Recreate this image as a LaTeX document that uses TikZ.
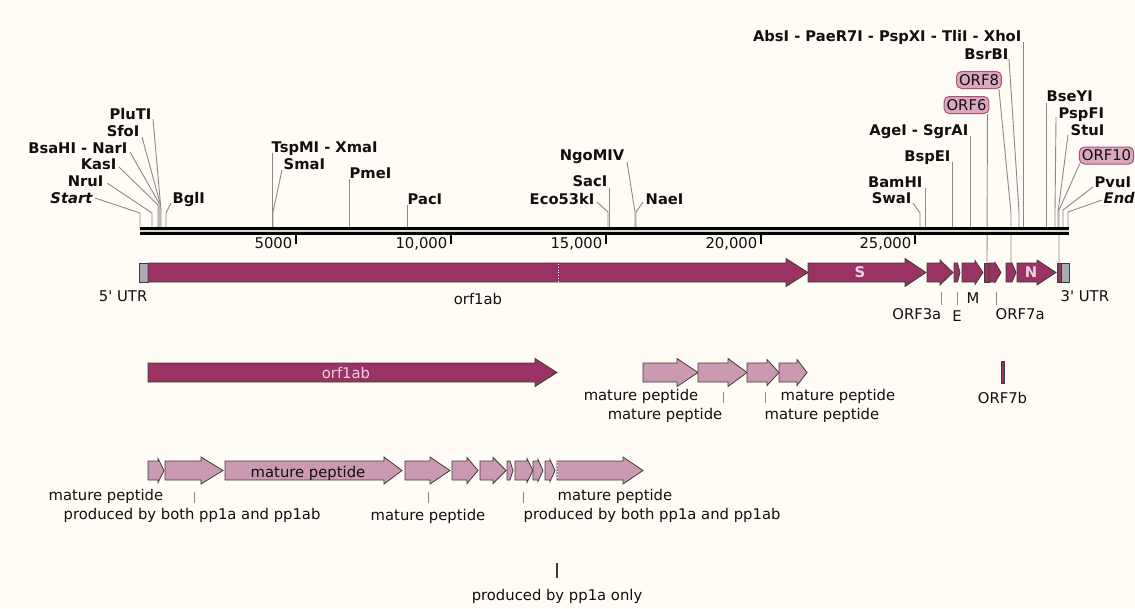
\documentclass[tikz,border=0pt]{standalone}
\usepackage{fontspec}
\setmainfont{DejaVu Sans}
\definecolor{bg}{HTML}{FFFCF5}
\definecolor{feat}{HTML}{9A3363}
\definecolor{pep}{HTML}{CC99B2}
\definecolor{utr}{HTML}{A8ABB2}
\definecolor{pillfill}{HTML}{DCA8BF}
\definecolor{pilldraw}{HTML}{A85078}
\definecolor{edge}{HTML}{3C3C3C}
\definecolor{leadc}{HTML}{8A8A8A}
\definecolor{txt}{HTML}{101010}
\definecolor{lightlbl}{HTML}{EBD3DF}
\definecolor{gapc}{HTML}{D4D4D4}
% #1 style, #2 x start, #3 body end, #4 tip, #5 y centre, #6 half body, #7 half head
\newcommand{\garr}[7]{%
  \path[#1] ({#2},{#5-#6}) -- ({#3},{#5-#6}) -- ({#3},{#5-#7}) -- ({#4},{#5})
    -- ({#3},{#5+#7}) -- ({#3},{#5+#6}) -- ({#2},{#5+#6}) -- cycle;}
\tikzset{
  site/.style={font=\fontsize{14.7}{16}\selectfont\bfseries, text=txt, inner sep=0.5pt, yshift=-3.5pt},
  ital/.style={font=\fontsize{14.7}{16}\selectfont\bfseries\itshape, text=txt, inner sep=0.5pt, yshift=-3.5pt},
  lbl/.style={font=\fontsize{14.8}{16}\selectfont, text=txt, inner sep=0.5pt, yshift=-3.5pt},
  inlbl/.style={font=\fontsize{14.8}{16}\selectfont\bfseries, text=lightlbl, inner sep=0.5pt},
  lead/.style={draw=leadc, line width=0.9pt},
  pill/.style={font=\fontsize{14.8}{16}\selectfont, text=txt, draw=pilldraw, fill=pillfill,
    rounded corners=5pt, inner xsep=2.5pt, inner ysep=0pt, minimum height=17pt, line width=1pt},
  fe/.style={fill=feat, draw=edge, line width=0.8pt, line join=miter},
  pp/.style={fill=pep, draw=edge, line width=0.8pt},
  ut/.style={fill=utr, draw=edge, line width=0.8pt},
  tickmark/.style={draw=black, line width=1.6pt},
  flead/.style={draw=leadc, line width=0.9pt}
}
\begin{document}
\begin{tikzpicture}[x=1pt,y=-1pt]
\fill[bg] (0,0) rectangle (1135,608);
\useasboundingbox (0,0) rectangle (1135,608);

% ---------------- restriction sites: left ----------------
\node[ital,anchor=mid east] (start) at (93,197) {Start};
\draw[lead] (start.mid east) ++(2,-2.5) -- (140,213) -- (140,228);
\node[site,anchor=mid east] (nru) at (104,180) {NruI};
\draw[lead] (nru.mid east) ++(3,-0.5) -- (152,213) -- (152,228);
\node[site,anchor=mid east] (kas) at (117,163) {KasI};
\draw[lead] (kas.mid east) ++(2,0.5) -- (158,205) -- (158,228);
\node[site,anchor=mid east] (bsahi) at (128,147) {BsaHI - NarI};
\draw[lead] (bsahi.mid east) ++(2,1.5) -- (159,203) -- (159,228);
\node[site,anchor=mid east] (sfo) at (140,130) {SfoI};
\draw[lead] (sfo.mid east) ++(2,3.5) -- (160,203) -- (160,228);
\node[site,anchor=mid east] (plu) at (152,113) {PluTI};
\draw[lead] (plu.mid east) ++(1,2.5) -- (161,210) -- (161,228);
\node[site,anchor=mid west] (bgl) at (172,197) {BglI};
\draw[lead] (bgl.mid west) ++(-1,2.5) -- (166,213) -- (166,228);

% ---------------- middle ----------------
\node[site,anchor=mid west] (tspmi) at (271,146) {TspMI - XmaI};
\draw[lead] (tspmi.mid west) ++(1,3.5) -- (272,228);
\node[site,anchor=mid west] (sma) at (283,163) {SmaI};
\draw[lead] (sma.mid west) ++(-1,3.5) -- (273,212) -- (273,228);
\node[site,anchor=mid west] (pme) at (349,172) {PmeI};
\draw[lead] (pme.mid west) ++(0,3.5) -- (349,228);
\node[site,anchor=mid west] (pac) at (407,198) {PacI};
\draw[lead] (pac.mid west) ++(0,3.5) -- (407,228);
\node[site,anchor=mid east] (ngo) at (625,154) {NgoMIV};
\draw[lead] (ngo.mid east) ++(2,4.5) -- (635,212) -- (635,228);
\node[site,anchor=mid east] (sac) at (608,180) {SacI};
\draw[lead] (sac.mid east) ++(1,4.5) -- (609,228);
\node[site,anchor=mid east] (eco) at (595,198) {Eco53kI};
\draw[lead] (eco.mid east) ++(2,0.5) -- (608,212) -- (608,228);
\node[site,anchor=mid west] (nae) at (645,198) {NaeI};
\draw[lead] (nae.mid west) ++(-2,0.5) -- (636,212) -- (636,228);

% ---------------- right ----------------
\node[site,anchor=mid east] (xho) at (1022,35) {AbsI - PaeR7I - PspXI - TliI - XhoI};
\draw[lead] (xho.mid east) ++(1,3.5) -- (1023,228);
\node[site,anchor=mid east] (bsrbi) at (1009,53) {BsrBI};
\draw[lead] (bsrbi.mid east) ++(0,2.5) -- (1019,212) -- (1019,228);
\node[site,anchor=mid east] (age) at (969,129) {AgeI - SgrAI};
\draw[lead] (age.mid east) ++(1,3.5) -- (970,228);
\node[site,anchor=mid east] (bspei) at (951,155) {BspEI};
\draw[lead] (bspei.mid east) ++(1,3.5) -- (952,228);
\node[site,anchor=mid east] (bam) at (923,181) {BamHI};
\draw[lead] (bam.mid east) ++(2,3.5) -- (925,228);
\node[site,anchor=mid east] (swa) at (912,197) {SwaI};
\draw[lead] (swa.mid east) ++(1,2.5) -- (920,213) -- (920,228);
\node[site,anchor=mid west] (bseyi) at (1046,95) {BseYI};
\draw[lead] (bseyi.mid west) ++(0,4.5) -- (1046,228);
\node[site,anchor=mid west] (pspfi) at (1058,112) {PspFI};
\draw[lead] (pspfi.mid west) ++(-2,1.5) -- (1055,212) -- (1055,228);
\node[site,anchor=mid west] (stu) at (1070,129) {StuI};
\draw[lead] (stu.mid west) ++(-2,2.5) -- (1058,212) -- (1058,228);
\node[site,anchor=mid west] (pvu) at (1094,181) {PvuI};
\draw[lead] (pvu.mid west) ++(-1,2.5) -- (1063,210) -- (1063,228);
\node[ital,anchor=mid west] (endl) at (1103,197) {End};
\draw[lead] (endl.mid west) ++(-1,-0.5) -- (1068,212) -- (1068,228);

% ORF pills (labels of features) with leaders through the ruler
\coordinate (orf8f) at (1011,263);
\coordinate (orf6f) at (987,263);
\coordinate (orf10f) at (1059,263);
\node[pill] (orf8l) at (979,80) {ORF8};
\draw[flead] (orf8l.south east) ++(-3,0) -- (1011,213) -- (orf8f);
\node[pill] (orf6l) at (966.5,105) {ORF6};
\draw[flead] (orf6l.south east) ++(-2,0) -- (orf6f);
\node[pill] (orf10l) at (1106.5,155.5) {ORF10};
\draw[flead] (orf10l.south west) ++(1,-1) -- (1059,210) -- (orf10f);

% ---------------- ruler ----------------
\fill[black] (140,227) rectangle (1069,235);
\draw[draw=gapc, line width=1.8pt] (140,230.8) -- (1069,230.8);
\foreach \x/\t/\n in {296/5000/t5, 451/{10,000}/t10, 606/{15,000}/t15, 761/{20,000}/t20, 915/{25,000}/t25}{
  \draw[tickmark] (\x,235) -- (\x,244);
  \node[lbl,anchor=mid east] (\n) at (\x-3,242) {\t};
}

% ---------------- main feature row ----------------
\draw[ut] (139,263) rectangle (148,282);
\garr{fe}{148}{786}{808}{272.5}{9.5}{14}
\draw[white, dotted, line width=0.8pt] (558,264) -- (558,281);
\garr{fe}{808}{905}{926}{272.5}{9.5}{14}
\node[inlbl] (slbl) at (860,272.5) {S};
\garr{fe}{927}{940}{953}{272.5}{9.5}{12.5}
\garr{fe}{954}{957.5}{960}{272.5}{9.5}{9.5}
\garr{fe}{962}{975}{983}{272.5}{9.5}{12}
\draw[fe] (984,263) rectangle (989,282);
\garr{fe}{989}{995}{1001}{272.5}{9.5}{10}
\garr{fe}{1006}{1012}{1016}{272.5}{9.5}{9.5}
\garr{fe}{1017}{1037}{1056}{272.5}{9.5}{12.5}
\node[inlbl] (nlbl) at (1031,272.5) {N};
\draw[fe] (1057,263) rectangle (1061,282);
\draw[ut] (1061,263) rectangle (1069,282);

\node[lbl,anchor=mid east] (utr5) at (148,295) {5\textquotesingle{} UTR};
\node[lbl] (orf1abl) at (478,295) {orf1ab};
\node[lbl,anchor=mid east] (orf3al) at (942,313) {ORF3a};
\draw[lead] (941,292) -- (941,305);
\node[lbl] (el) at (957,313) {E};
\draw[lead] (957,292) -- (957,305);
\node[lbl] (ml) at (973,295) {M};
\node[lbl,anchor=mid west] (orf7al) at (995,313) {ORF7a};
\draw[lead] (996,292) -- (996,305);
\node[lbl,anchor=mid west] (utr3) at (1060,295) {3\textquotesingle{} UTR};

% ---------------- second row ----------------
\garr{fe}{148}{535}{557}{372.5}{9.5}{14}
\node[inlbl,font=\fontsize{14.8}{16}\selectfont] (orf1ab2) at (346,372.5) {orf1ab};
\garr{pp}{643}{677}{698}{372.5}{9.5}{14}
\garr{pp}{698}{728}{747}{372.5}{9.5}{14}
\garr{pp}{747}{767}{779}{372.5}{9.5}{13}
\garr{pp}{779}{797}{807}{372.5}{9.5}{13}
\node[lbl,anchor=mid east] (mp1) at (699,394) {mature peptide};
\node[lbl,anchor=mid east] (mp2) at (723,413) {mature peptide};
\draw[lead] (723,392) -- (723,403);
\node[lbl,anchor=mid west] (mp3) at (764,413) {mature peptide};
\draw[lead] (765,392) -- (765,403);
\node[lbl,anchor=mid west] (mp4) at (780,394) {mature peptide};

\draw[fe] (1001,361) rectangle (1004,383);
\node[lbl] (orf7bl) at (1002.5,394) {ORF7b};

% ---------------- third row ----------------
\garr{pp}{148}{158}{164}{470.5}{9.5}{12}
\garr{pp}{165}{201}{223}{470.5}{9.5}{13.5}
\garr{pp}{225}{384}{402}{470.5}{9.5}{13.5}
\node[lbl] (mp5) at (308,470) {mature peptide};
\garr{pp}{405}{430}{450}{470.5}{9.5}{13.5}
\garr{pp}{452}{467}{478}{470.5}{9.5}{13}
\garr{pp}{480}{493}{506}{470.5}{9.5}{13}
\garr{pp}{507}{510}{513}{470.5}{9.5}{9.5}
\garr{pp}{515}{527}{533}{470.5}{9.5}{12}
\garr{pp}{533}{538}{543}{470.5}{9.5}{11}
\garr{pp}{545}{550}{555}{470.5}{9.5}{11}
\garr{pp}{557}{623}{643}{470.5}{9.5}{13.5}
\draw[white, dotted, line width=1pt] (557,462) -- (557,479);
\node[lbl,anchor=mid west] (mp6) at (48,494) {mature peptide};
\node[lbl,anchor=mid west] (pb1) at (63,513) {produced by both pp1a and pp1ab};
\draw[lead] (194,492) -- (194,503);
\node[lbl] (mp7) at (428,513) {mature peptide};
\draw[lead] (428,492) -- (428,503);
\node[lbl,anchor=mid west] (pb2) at (523,513) {produced by both pp1a and pp1ab};
\draw[lead] (523,492) -- (523,503);
\node[lbl,anchor=mid west] (mp8) at (557,494) {mature peptide};

% ---------------- fourth row ----------------
\draw[draw=edge, line width=1.6pt] (557,563) -- (557,578);
\node[lbl] (pp1a) at (557,593) {produced by pp1a only};
\end{tikzpicture}
\end{document}
